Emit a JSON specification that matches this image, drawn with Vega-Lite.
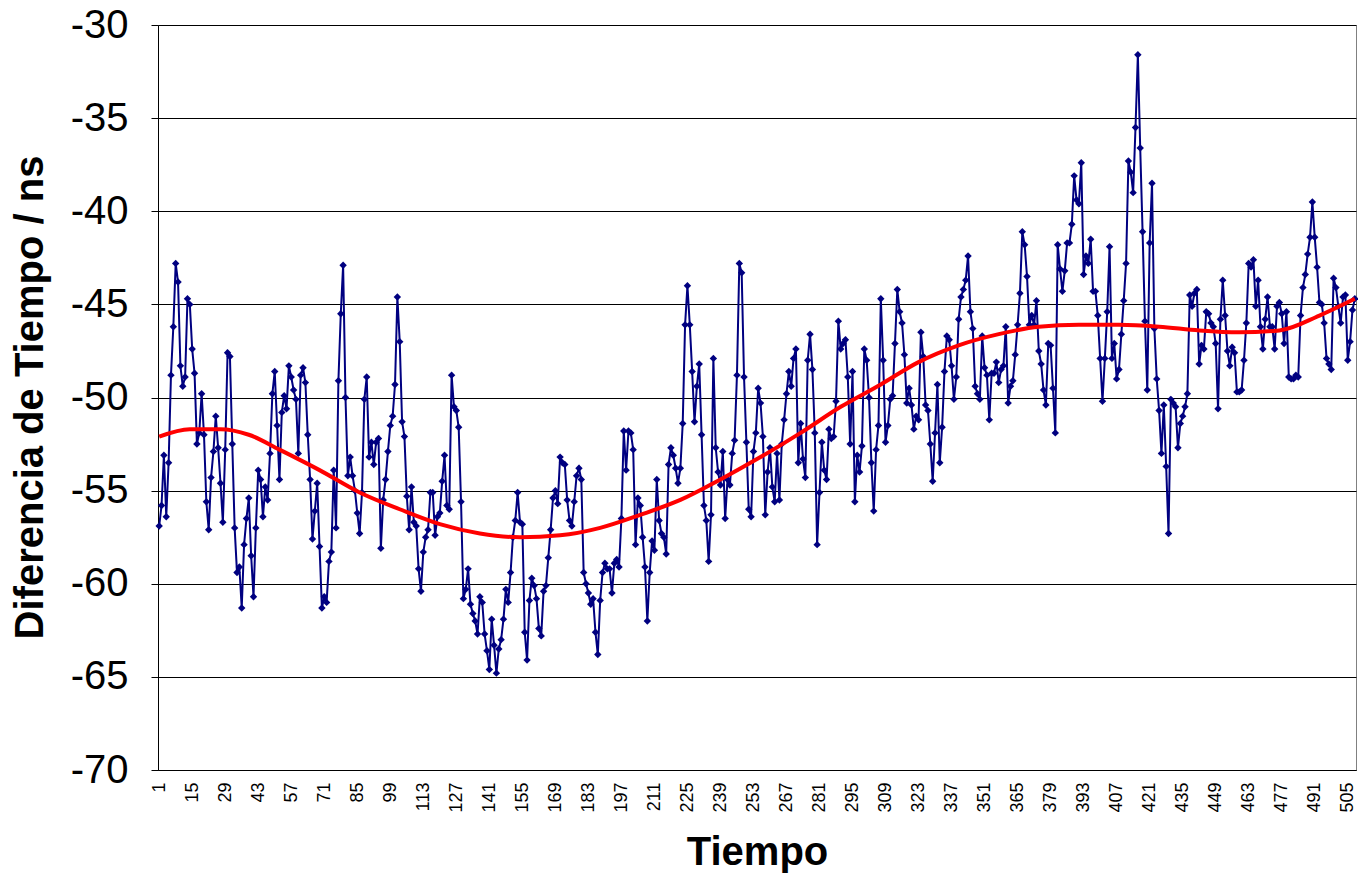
{
  "$schema": "https://vega.github.io/schema/vega-lite/v6.json",
  "width": 1198,
  "height": 745,
  "autosize": {"type": "none"},
  "padding": {"left": 158, "top": 25, "right": 2, "bottom": 106},
  "background": "#ffffff",
  "config": {
    "view": {"stroke": "#808080", "strokeWidth": 1},
    "font": "Liberation Sans",
    "axis": {"labelFont": "Liberation Sans", "titleFont": "Liberation Sans", "labelColor": "#000000", "titleColor": "#000000"}
  },
  "datasets": {
    "obs": [
{"t":1,"v":-56.9},{"t":2,"v":-55.8},{"t":3,"v":-53.1},{"t":4,"v":-56.4},{"t":5,"v":-53.5},{"t":6,"v":-48.8},{"t":7,"v":-46.2},{"t":8,"v":-42.8},{"t":9,"v":-43.8},{"t":10,"v":-48.3},
{"t":11,"v":-49.4},{"t":12,"v":-48.9},{"t":13,"v":-44.7},{"t":14,"v":-45.0},{"t":15,"v":-47.4},{"t":16,"v":-48.7},{"t":17,"v":-52.5},{"t":18,"v":-51.9},{"t":19,"v":-49.8},{"t":20,"v":-52.0},
{"t":21,"v":-55.6},{"t":22,"v":-57.1},{"t":23,"v":-54.3},{"t":24,"v":-52.9},{"t":25,"v":-51.0},{"t":26,"v":-52.7},{"t":27,"v":-54.6},{"t":28,"v":-56.7},{"t":29,"v":-52.8},{"t":30,"v":-47.6},
{"t":31,"v":-47.8},{"t":32,"v":-52.5},{"t":33,"v":-57.0},{"t":34,"v":-59.4},{"t":35,"v":-59.1},{"t":36,"v":-61.3},{"t":37,"v":-57.9},{"t":38,"v":-56.5},{"t":39,"v":-55.4},{"t":40,"v":-58.5},
{"t":41,"v":-60.7},{"t":42,"v":-57.0},{"t":43,"v":-53.9},{"t":44,"v":-54.4},{"t":45,"v":-56.4},{"t":46,"v":-54.8},{"t":47,"v":-55.5},{"t":48,"v":-53.0},{"t":49,"v":-49.8},{"t":50,"v":-48.6},
{"t":51,"v":-51.5},{"t":52,"v":-54.4},{"t":53,"v":-50.8},{"t":54,"v":-49.9},{"t":55,"v":-50.6},{"t":56,"v":-48.3},{"t":57,"v":-48.9},{"t":58,"v":-49.6},{"t":59,"v":-50.1},{"t":60,"v":-53.0},
{"t":61,"v":-48.8},{"t":62,"v":-48.4},{"t":63,"v":-49.2},{"t":64,"v":-52.0},{"t":65,"v":-54.4},{"t":66,"v":-57.6},{"t":67,"v":-56.1},{"t":68,"v":-54.6},{"t":69,"v":-58.0},{"t":70,"v":-61.3},
{"t":71,"v":-60.7},{"t":72,"v":-61.0},{"t":73,"v":-58.8},{"t":74,"v":-58.3},{"t":75,"v":-53.9},{"t":76,"v":-57.0},{"t":77,"v":-49.1},{"t":78,"v":-45.5},{"t":79,"v":-42.9},{"t":80,"v":-50.0},
{"t":81,"v":-54.2},{"t":82,"v":-53.2},{"t":83,"v":-54.2},{"t":84,"v":-55.0},{"t":85,"v":-56.2},{"t":86,"v":-57.3},{"t":87,"v":-55.1},{"t":88,"v":-50.1},{"t":89,"v":-48.9},{"t":90,"v":-53.2},
{"t":91,"v":-52.4},{"t":92,"v":-53.6},{"t":93,"v":-52.4},{"t":94,"v":-52.2},{"t":95,"v":-58.1},{"t":96,"v":-55.5},{"t":97,"v":-54.4},{"t":98,"v":-52.9},{"t":99,"v":-51.5},{"t":100,"v":-51.0},
{"t":101,"v":-49.3},{"t":102,"v":-44.6},{"t":103,"v":-47.0},{"t":104,"v":-51.3},{"t":105,"v":-52.1},{"t":106,"v":-55.3},{"t":107,"v":-57.1},{"t":108,"v":-54.8},{"t":109,"v":-56.7},{"t":110,"v":-56.9},
{"t":111,"v":-59.2},{"t":112,"v":-60.4},{"t":113,"v":-58.3},{"t":114,"v":-57.5},{"t":115,"v":-57.1},{"t":116,"v":-55.1},{"t":117,"v":-55.1},{"t":118,"v":-57.4},{"t":119,"v":-56.4},{"t":120,"v":-56.2},
{"t":121,"v":-54.5},{"t":122,"v":-53.1},{"t":123,"v":-55.8},{"t":124,"v":-56.0},{"t":125,"v":-48.8},{"t":126,"v":-50.5},{"t":127,"v":-50.7},{"t":128,"v":-51.6},{"t":129,"v":-55.6},{"t":130,"v":-60.8},
{"t":131,"v":-60.3},{"t":132,"v":-59.2},{"t":133,"v":-61.1},{"t":134,"v":-61.6},{"t":135,"v":-62.0},{"t":136,"v":-62.7},{"t":137,"v":-60.7},{"t":138,"v":-61.0},{"t":139,"v":-62.7},{"t":140,"v":-63.6},
{"t":141,"v":-64.6},{"t":142,"v":-61.9},{"t":143,"v":-63.3},{"t":144,"v":-64.8},{"t":145,"v":-63.5},{"t":146,"v":-63.0},{"t":147,"v":-61.9},{"t":148,"v":-60.3},{"t":149,"v":-61.0},{"t":150,"v":-59.4},
{"t":151,"v":-57.5},{"t":152,"v":-56.6},{"t":153,"v":-55.1},{"t":154,"v":-56.7},{"t":155,"v":-56.8},{"t":156,"v":-62.6},{"t":157,"v":-64.1},{"t":158,"v":-60.9},{"t":159,"v":-59.7},{"t":160,"v":-60.1},
{"t":161,"v":-60.8},{"t":162,"v":-62.4},{"t":163,"v":-62.8},{"t":164,"v":-60.4},{"t":165,"v":-60.1},{"t":166,"v":-58.6},{"t":167,"v":-57.1},{"t":168,"v":-55.4},{"t":169,"v":-55.0},{"t":170,"v":-55.7},
{"t":171,"v":-53.2},{"t":172,"v":-53.5},{"t":173,"v":-53.6},{"t":174,"v":-55.5},{"t":175,"v":-56.6},{"t":176,"v":-56.9},{"t":177,"v":-55.6},{"t":178,"v":-54.2},{"t":179,"v":-53.8},{"t":180,"v":-54.4},
{"t":181,"v":-59.4},{"t":182,"v":-60.0},{"t":183,"v":-60.5},{"t":184,"v":-61.1},{"t":185,"v":-60.8},{"t":186,"v":-62.6},{"t":187,"v":-63.8},{"t":188,"v":-60.9},{"t":189,"v":-59.4},{"t":190,"v":-58.9},
{"t":191,"v":-59.2},{"t":192,"v":-59.2},{"t":193,"v":-60.5},{"t":194,"v":-58.9},{"t":195,"v":-58.7},{"t":196,"v":-59.1},{"t":197,"v":-56.5},{"t":198,"v":-51.8},{"t":199,"v":-53.9},{"t":200,"v":-51.8},
{"t":201,"v":-51.9},{"t":202,"v":-52.8},{"t":203,"v":-57.9},{"t":204,"v":-55.4},{"t":205,"v":-55.8},{"t":206,"v":-57.5},{"t":207,"v":-59.1},{"t":208,"v":-62.0},{"t":209,"v":-59.4},{"t":210,"v":-57.7},
{"t":211,"v":-58.2},{"t":212,"v":-54.4},{"t":213,"v":-56.6},{"t":214,"v":-57.3},{"t":215,"v":-57.5},{"t":216,"v":-58.4},{"t":217,"v":-53.6},{"t":218,"v":-52.7},{"t":219,"v":-53.1},{"t":220,"v":-53.8},
{"t":221,"v":-54.6},{"t":222,"v":-53.8},{"t":223,"v":-51.4},{"t":224,"v":-46.1},{"t":225,"v":-44.0},{"t":226,"v":-46.1},{"t":227,"v":-48.6},{"t":228,"v":-51.3},{"t":229,"v":-49.4},{"t":230,"v":-48.2},
{"t":231,"v":-52.0},{"t":232,"v":-55.8},{"t":233,"v":-56.6},{"t":234,"v":-58.8},{"t":235,"v":-56.3},{"t":236,"v":-47.9},{"t":237,"v":-52.7},{"t":238,"v":-54.0},{"t":239,"v":-54.7},{"t":240,"v":-52.9},
{"t":241,"v":-56.5},{"t":242,"v":-54.4},{"t":243,"v":-54.7},{"t":244,"v":-53.0},{"t":245,"v":-52.3},{"t":246,"v":-48.8},{"t":247,"v":-42.8},{"t":248,"v":-43.3},{"t":249,"v":-48.9},{"t":250,"v":-52.4},
{"t":251,"v":-56.0},{"t":252,"v":-56.4},{"t":253,"v":-52.9},{"t":254,"v":-51.9},{"t":255,"v":-49.5},{"t":256,"v":-50.3},{"t":257,"v":-52.1},{"t":258,"v":-56.3},{"t":259,"v":-54.0},{"t":260,"v":-52.7},
{"t":261,"v":-54.8},{"t":262,"v":-55.6},{"t":263,"v":-53.0},{"t":264,"v":-55.5},{"t":265,"v":-52.5},{"t":266,"v":-51.2},{"t":267,"v":-49.8},{"t":268,"v":-48.6},{"t":269,"v":-49.4},{"t":270,"v":-47.9},
{"t":271,"v":-47.4},{"t":272,"v":-53.5},{"t":273,"v":-51.4},{"t":274,"v":-53.3},{"t":275,"v":-54.3},{"t":276,"v":-48.0},{"t":277,"v":-46.6},{"t":278,"v":-48.5},{"t":279,"v":-51.9},{"t":280,"v":-57.9},
{"t":281,"v":-55.1},{"t":282,"v":-52.4},{"t":283,"v":-53.9},{"t":284,"v":-54.4},{"t":285,"v":-51.7},{"t":286,"v":-52.2},{"t":287,"v":-52.1},{"t":288,"v":-50.2},{"t":289,"v":-45.9},{"t":290,"v":-47.4},
{"t":291,"v":-47.1},{"t":292,"v":-46.9},{"t":293,"v":-48.9},{"t":294,"v":-52.5},{"t":295,"v":-48.6},{"t":296,"v":-55.6},{"t":297,"v":-53.1},{"t":298,"v":-54.0},{"t":299,"v":-52.6},{"t":300,"v":-47.4},
{"t":301,"v":-48.0},{"t":302,"v":-50.0},{"t":303,"v":-53.5},{"t":304,"v":-56.1},{"t":305,"v":-52.8},{"t":306,"v":-51.5},{"t":307,"v":-44.7},{"t":308,"v":-48.0},{"t":309,"v":-52.4},{"t":310,"v":-51.5},
{"t":311,"v":-50.1},{"t":312,"v":-49.9},{"t":313,"v":-47.1},{"t":314,"v":-44.2},{"t":315,"v":-45.4},{"t":316,"v":-46.0},{"t":317,"v":-47.7},{"t":318,"v":-50.3},{"t":319,"v":-49.5},{"t":320,"v":-50.4},
{"t":321,"v":-51.7},{"t":322,"v":-51.0},{"t":323,"v":-51.2},{"t":324,"v":-46.5},{"t":325,"v":-47.8},{"t":326,"v":-50.4},{"t":327,"v":-50.7},{"t":328,"v":-52.5},{"t":329,"v":-54.5},{"t":330,"v":-51.9},
{"t":331,"v":-49.3},{"t":332,"v":-53.5},{"t":333,"v":-51.6},{"t":334,"v":-48.6},{"t":335,"v":-46.7},{"t":336,"v":-46.9},{"t":337,"v":-48.3},{"t":338,"v":-50.1},{"t":339,"v":-48.9},{"t":340,"v":-45.8},
{"t":341,"v":-44.6},{"t":342,"v":-44.2},{"t":343,"v":-43.7},{"t":344,"v":-42.4},{"t":345,"v":-45.4},{"t":346,"v":-46.3},{"t":347,"v":-49.4},{"t":348,"v":-49.8},{"t":349,"v":-50.1},{"t":350,"v":-46.7},
{"t":351,"v":-48.4},{"t":352,"v":-48.8},{"t":353,"v":-51.2},{"t":354,"v":-48.7},{"t":355,"v":-48.7},{"t":356,"v":-48.1},{"t":357,"v":-49.2},{"t":358,"v":-48.5},{"t":359,"v":-48.3},{"t":360,"v":-46.2},
{"t":361,"v":-50.3},{"t":362,"v":-49.4},{"t":363,"v":-49.1},{"t":364,"v":-47.7},{"t":365,"v":-46.1},{"t":366,"v":-44.4},{"t":367,"v":-41.1},{"t":368,"v":-41.8},{"t":369,"v":-43.5},{"t":370,"v":-46.1},
{"t":371,"v":-45.6},{"t":372,"v":-46.1},{"t":373,"v":-44.8},{"t":374,"v":-47.5},{"t":375,"v":-48.2},{"t":376,"v":-49.6},{"t":377,"v":-50.4},{"t":378,"v":-47.1},{"t":379,"v":-47.2},{"t":380,"v":-49.5},
{"t":381,"v":-51.9},{"t":382,"v":-41.8},{"t":383,"v":-43.1},{"t":384,"v":-44.3},{"t":385,"v":-43.2},{"t":386,"v":-41.7},{"t":387,"v":-41.7},{"t":388,"v":-40.7},{"t":389,"v":-38.1},{"t":390,"v":-39.4},
{"t":391,"v":-39.6},{"t":392,"v":-37.4},{"t":393,"v":-43.4},{"t":394,"v":-42.4},{"t":395,"v":-42.8},{"t":396,"v":-41.5},{"t":397,"v":-44.3},{"t":398,"v":-44.3},{"t":399,"v":-45.6},{"t":400,"v":-47.9},
{"t":401,"v":-50.2},{"t":402,"v":-47.9},{"t":403,"v":-45.4},{"t":404,"v":-41.9},{"t":405,"v":-47.9},{"t":406,"v":-47.1},{"t":407,"v":-49.0},{"t":408,"v":-48.5},{"t":409,"v":-46.6},{"t":410,"v":-44.8},
{"t":411,"v":-42.8},{"t":412,"v":-37.3},{"t":413,"v":-37.9},{"t":414,"v":-39.0},{"t":415,"v":-35.5},{"t":416,"v":-31.6},{"t":417,"v":-36.6},{"t":418,"v":-41.1},{"t":419,"v":-45.9},{"t":420,"v":-49.6},
{"t":421,"v":-41.7},{"t":422,"v":-38.5},{"t":423,"v":-46.3},{"t":424,"v":-49.0},{"t":425,"v":-50.7},{"t":426,"v":-53.0},{"t":427,"v":-50.4},{"t":428,"v":-53.7},{"t":429,"v":-57.3},{"t":430,"v":-50.1},
{"t":431,"v":-50.3},{"t":432,"v":-50.5},{"t":433,"v":-52.7},{"t":434,"v":-51.4},{"t":435,"v":-51.0},{"t":436,"v":-50.5},{"t":437,"v":-49.8},{"t":438,"v":-44.5},{"t":439,"v":-45.1},{"t":440,"v":-44.4},
{"t":441,"v":-44.2},{"t":442,"v":-48.2},{"t":443,"v":-47.2},{"t":444,"v":-47.4},{"t":445,"v":-45.4},{"t":446,"v":-45.5},{"t":447,"v":-46.0},{"t":448,"v":-46.2},{"t":449,"v":-47.1},{"t":450,"v":-50.6},
{"t":451,"v":-45.8},{"t":452,"v":-43.7},{"t":453,"v":-45.6},{"t":454,"v":-47.5},{"t":455,"v":-48.3},{"t":456,"v":-47.3},{"t":457,"v":-47.6},{"t":458,"v":-49.7},{"t":459,"v":-49.7},{"t":460,"v":-49.6},
{"t":461,"v":-48.0},{"t":462,"v":-46.0},{"t":463,"v":-42.8},{"t":464,"v":-43.0},{"t":465,"v":-42.6},{"t":466,"v":-45.1},{"t":467,"v":-43.7},{"t":468,"v":-46.2},{"t":469,"v":-47.4},{"t":470,"v":-45.8},
{"t":471,"v":-44.6},{"t":472,"v":-46.2},{"t":473,"v":-46.2},{"t":474,"v":-47.4},{"t":475,"v":-45.1},{"t":476,"v":-44.9},{"t":477,"v":-45.5},{"t":478,"v":-47.1},{"t":479,"v":-45.4},{"t":480,"v":-48.9},
{"t":481,"v":-49.0},{"t":482,"v":-49.0},{"t":483,"v":-48.8},{"t":484,"v":-48.9},{"t":485,"v":-45.6},{"t":486,"v":-44.1},{"t":487,"v":-43.4},{"t":488,"v":-42.3},{"t":489,"v":-41.4},{"t":490,"v":-39.5},
{"t":491,"v":-41.4},{"t":492,"v":-43.0},{"t":493,"v":-44.9},{"t":494,"v":-45.0},{"t":495,"v":-46.0},{"t":496,"v":-47.9},{"t":497,"v":-48.2},{"t":498,"v":-48.5},{"t":499,"v":-43.6},{"t":500,"v":-44.1},
{"t":501,"v":-45.1},{"t":502,"v":-46.0},{"t":503,"v":-44.6},{"t":504,"v":-44.5},{"t":505,"v":-48.0},{"t":506,"v":-47.0},{"t":507,"v":-45.3},{"t":508,"v":-44.7}
    ],
    "trend": [
{"t":1,"v":-52.1},{"t":14,"v":-51.7},{"t":27,"v":-51.7},{"t":39,"v":-52.0},{"t":52,"v":-52.8},{"t":69,"v":-53.9},{"t":86,"v":-55.1},{"t":103,"v":-56.0},{"t":120,"v":-56.8},{"t":137,"v":-57.3},{"t":154,"v":-57.5},{"t":171,"v":-57.4},{"t":188,"v":-57.0},{"t":205,"v":-56.3},{"t":222,"v":-55.5},{"t":239,"v":-54.4},{"t":256,"v":-53.2},{"t":273,"v":-51.9},{"t":290,"v":-50.5},{"t":307,"v":-49.3},{"t":323,"v":-48.1},{"t":340,"v":-47.2},{"t":357,"v":-46.6},{"t":374,"v":-46.2},{"t":391,"v":-46.1},{"t":408,"v":-46.1},{"t":425,"v":-46.2},{"t":442,"v":-46.4},{"t":459,"v":-46.5},{"t":476,"v":-46.4},{"t":493,"v":-45.6},{"t":508,"v":-44.7}
    ]
  },
  "encoding": {
    "x": {
      "field": "t", "type": "quantitative",
      "scale": {"domain": [0.5, 508.5], "nice": false, "zero": false},
      "axis": {
        "title": "Tiempo",
        "values": [1,15,29,43,57,71,85,99,113,127,141,155,169,183,197,211,225,239,253,267,281,295,309,323,337,351,365,379,393,407,421,435,449,463,477,491,505],
        "labelAngle": 270, "labelFontSize": 18, "labelPadding": 12, "labelOverlap": false, "labelFlush": false,
        "ticks": false, "grid": false, "domainColor": "#000000", "domainWidth": 1,
        "titleFontSize": 40, "titleFontWeight": "bold", "titleY": 82, "titleBaseline": "middle"
      }
    },
    "y": {
      "field": "v", "type": "quantitative",
      "scale": {"domain": [-70, -30], "nice": false, "zero": false},
      "axis": {
        "title": "Diferencia de Tiempo / ns",
        "values": [-70,-65,-60,-55,-50,-45,-40,-35,-30],
        "labelExpr": "'' + datum.value",
        "labelFontSize": 40, "labelPadding": 23, "labelOverlap": false, "labelFlush": false,
        "tickSize": 7, "tickColor": "#000000", "domainColor": "#000000", "domainWidth": 1,
        "grid": true, "gridColor": "#000000", "gridWidth": 1, "gridOpacity": 1,
        "titleFontSize": 40, "titleFontWeight": "bold", "titleAngle": 270,
        "titleX": -128, "titleY": 372, "titleAlign": "center", "titleBaseline": "middle"
      }
    }
  },
  "layer": [
    {"data": {"name": "obs"}, "mark": {"type": "line", "color": "#000080", "strokeWidth": 2}},
    {"data": {"name": "obs"}, "mark": {"type": "point", "shape": "diamond", "filled": true, "size": 55, "color": "#000080", "opacity": 1}},
    {"data": {"name": "trend"}, "mark": {"type": "line", "color": "#ff0000", "strokeWidth": 4, "interpolate": "monotone"}}
  ]
}
